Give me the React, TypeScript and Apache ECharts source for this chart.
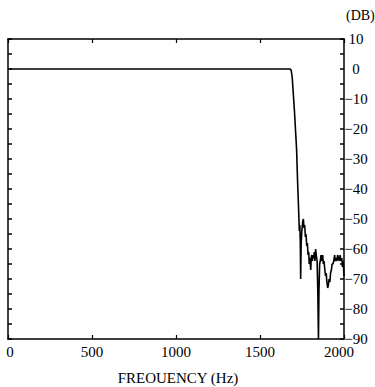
import React, { useEffect, useRef } from "react";
import * as echarts from "echarts";

const freqHz = [
  0, 1500, 1680, 1686, 1692, 1698, 1705, 1712, 1718, 1724, 1730, 1734, 1737, 1740,
  1742, 1745, 1749, 1754, 1758, 1762, 1766, 1770, 1774, 1778, 1782, 1786, 1790,
  1793, 1797, 1802, 1805, 1808, 1812, 1815, 1819, 1823, 1827, 1831, 1835, 1840,
  1844, 1848, 1851, 1855, 1859, 1863, 1868, 1873, 1877, 1881, 1886, 1890, 1894,
  1898, 1903, 1907, 1911, 1916, 1920, 1925, 1929, 1934, 1939, 1944, 1948, 1953,
  1958, 1962, 1967, 1972, 1977, 1982, 1987, 1991, 1995, 2000,
];
const gainDb = [
  0, 0, 0, -0.5, -3, -8, -14, -21, -27, -38, -47, -54, -52, -58,
  -70, -58, -54, -51, -50, -53, -52, -56, -55, -59, -58, -62, -61,
  -65, -63, -67, -63, -62, -64, -62, -63, -61, -64, -60, -62, -64,
  -74, -90, -74, -65, -64, -62, -64, -62, -65, -64, -67, -69, -68,
  -71, -73, -72, -70, -71, -68, -67, -65, -65, -64, -62, -64, -63,
  -64, -62, -63, -64, -62, -64, -63, -66, -64, -69,
];
const xTicks = [0, 500, 1000, 1500, 2000];
const yTickLabels = [10, 0, -10, -20, -30, -40, -50, -60, -70, -80, -90];

const FONT = "Liberation Serif";

export default function App() {
  const ref = useRef<HTMLDivElement>(null);
  useEffect(() => {
    if (!ref.current) return;
    const chart = echarts.init(ref.current, null, { renderer: "svg" });
    const axisLine = { show: true, onZero: false, lineStyle: { color: "#000", width: 1.5 } };
    const lab = { fontFamily: FONT, fontSize: 15, color: "#000" };
    chart.setOption({
      animation: false,
      backgroundColor: "#fff",
      grid: { left: 8, right: 31, top: 39, bottom: 48, containLabel: false },
      xAxis: [
        {
          type: "value",
          position: "bottom",
          min: 0,
          max: 2000,
          interval: 500,
          axisLine,
          axisTick: { show: true, inside: true, length: 4, lineStyle: { color: "#000", width: 1.2 } },
          axisLabel: {
            show: true,
            margin: 5,
            ...lab,
            formatter: (v: number) => {
              if (!xTicks.includes(v)) return "";
              if (v === 2000) return "{a|2000}";
              if (v === 0) return "{b|0}";
              return String(v);
            },
            rich: {
              a: { ...lab, padding: [0, 10, 0, 0] },
              b: { ...lab, padding: [0, 0, 0, 4] },
            },
          },
          splitLine: { show: false },
        },
        {
          type: "value",
          position: "top",
          min: 0,
          max: 2000,
          interval: 500,
          axisLine,
          axisTick: { show: true, inside: true, length: 4, lineStyle: { color: "#000", width: 1.2 } },
          axisLabel: { show: false },
          splitLine: { show: false },
        },
      ],
      yAxis: [
        {
          type: "value",
          position: "right",
          min: -90,
          max: 10,
          interval: 5,
          axisLine,
          axisTick: { show: true, inside: true, length: 4, lineStyle: { color: "#000", width: 1.5 } },
          axisLabel: {
            show: true,
            margin: 12,
            align: "center",
            ...lab,
            formatter: (v: number) =>
              yTickLabels.includes(v) ? (v < 0 ? "\u2212" + Math.abs(v) : String(v)) : "",
          },
          splitLine: { show: false },
        },
        {
          type: "value",
          position: "left",
          min: -90,
          max: 10,
          interval: 5,
          axisLine,
          axisTick: { show: true, inside: true, length: 4, lineStyle: { color: "#000", width: 1.5 } },
          axisLabel: { show: false },
          splitLine: { show: false },
        },
      ],
      graphic: [
        {
          type: "text",
          left: 346,
          top: 8,
          style: { text: "(DB)", fill: "#000", fontFamily: FONT, fontSize: 14 },
        },
        {
          type: "text",
          x: 178,
          y: 378,
          style: {
            text: "FREOUENCY (Hz)",
            fill: "#000",
            fontFamily: FONT,
            fontSize: 15,
            textAlign: "center",
            textVerticalAlign: "middle",
          },
        },
      ],
      series: [
        {
          type: "line",
          xAxisIndex: 0,
          yAxisIndex: 0,
          data: freqHz.map((f, i) => [f, gainDb[i]]),
          showSymbol: false,
          symbol: "none",
          clip: true,
          lineStyle: { color: "#000", width: 1.6 },
        },
      ],
    });
    return () => chart.dispose();
  }, []);
  return (
    <div
      ref={ref}
      style={{ position: "fixed", left: 0, top: 0, width: 375, height: 387, background: "#fff" }}
    />
  );
}
